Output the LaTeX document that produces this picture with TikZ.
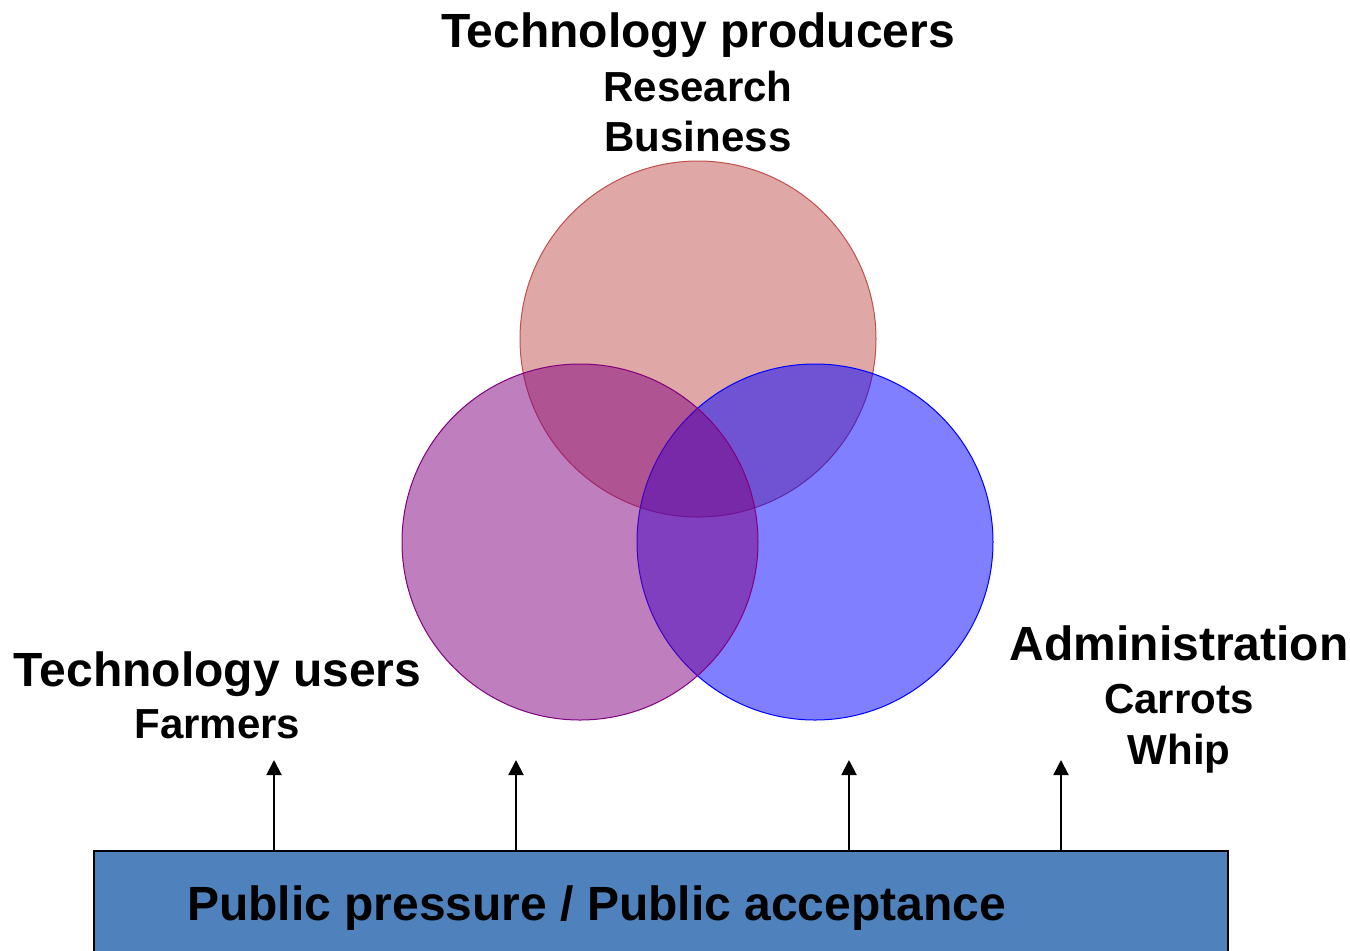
\documentclass[tikz,border=0pt]{standalone}
\usepackage{fontspec}
\setmainfont{Liberation Sans}
\usetikzlibrary{arrows.meta}
\definecolor{cred}{RGB}{192,80,77}
\definecolor{cpurple}{RGB}{128,0,128}
\definecolor{cblue}{RGB}{0,0,255}
\definecolor{boxblue}{RGB}{79,129,189}
\tikzset{
  venn/.style={fill opacity=0.5, line width=0.5pt},
  big/.style={font=\fontsize{24}{28}\selectfont\bfseries, anchor=base, inner sep=0pt},
  small/.style={font=\fontsize{21}{25}\selectfont\bfseries, anchor=base, inner sep=0pt},
  uparrow/.style={draw=black, line width=1pt, -{Triangle[width=7.5pt,length=7.5pt]}}
}
\begin{document}
\begin{tikzpicture}[x=0.5pt,y=-0.5pt]
\useasboundingbox (0,0) rectangle (1350,950);
% circles
\fill[white] (0,0) rectangle (1350,950);
\draw[venn, draw=cred, fill=cred] (698,339) circle [radius=89pt];
\draw[venn, draw=cblue, fill=cblue] (815,542) circle [radius=89pt];
\draw[venn, draw=cpurple, fill=cpurple] (580,542) circle [radius=89pt];
% labels
\node[big] (tp) at (698,47) {Technology producers};
\node[small] (res) at (698,101) {Research};
\node[small] (bus) at (698,151) {Business};
\node[big] (tu) at (217.5,686) {Technology users};
\node[small] (farm) at (217.5,738) {Farmers};
\node[big] (adm) at (1179,660) {Administration};
\node[small] (car) at (1179,713) {Carrots};
\node[small] (whip) at (1179,764) {Whip};
% box
\node[draw=black, line width=1pt, fill=boxblue, anchor=north west, minimum width=567pt, minimum height=60pt, inner sep=0pt] (box) at (93,850) {};
\node[big] (pp) at (596.5,920) {Public pressure / Public acceptance};
% arrows
\coordinate (t1) at (274,760);
\coordinate (t2) at (516,760);
\coordinate (t3) at (849,760);
\coordinate (t4) at (1061,760);
\foreach \t in {t1,t2,t3,t4}
  \draw[uparrow] (\t |- box.north) -- (\t);
\end{tikzpicture}
\end{document}
